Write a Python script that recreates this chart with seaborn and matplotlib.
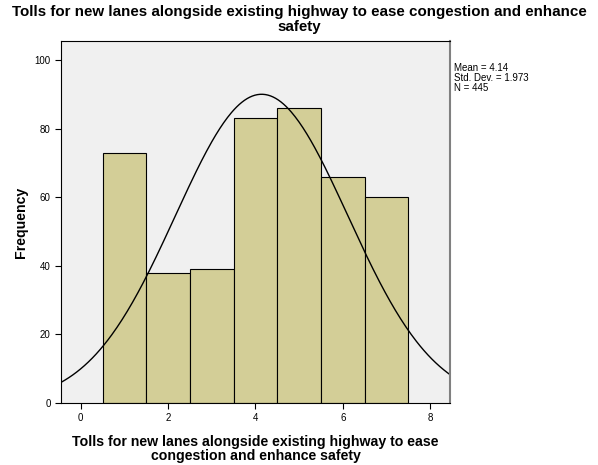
import numpy as np
import pandas as pd
import matplotlib
matplotlib.use("Agg")
import matplotlib.pyplot as plt
import seaborn as sns

# response categories and their counts
categories = [1, 2, 3, 4, 5, 6, 7]
counts = [73, 38, 39, 83, 86, 66, 60]
meanValue = 4.14
stdDev = 1.973
nTotal = 445

sns.set_style("white")
plt.rcParams["font.family"] = ["Liberation Sans", "DejaVu Sans"]
plt.rcParams["text.color"] = "black"
plt.rcParams["axes.labelcolor"] = "black"

fig = plt.figure(figsize=(5.98, 4.65), dpi=100)
ax = fig.add_axes([0.102, 0.1333, 0.6505, 0.7785])
ax.set_facecolor("#f0f0f0")

df = pd.DataFrame({"answer": categories, "count": counts})
edges = [0.5, 1.5, 2.5, 3.5, 4.5, 5.5, 6.5, 7.5]
sns.histplot(data=df, x="answer", weights="count", bins=edges, color="#d3ce97",
             edgecolor="black", linewidth=0.8, alpha=1.0, ax=ax)

# fitted normal curve scaled to counts
xs = np.linspace(-0.45, 8.45, 300)
ys = nTotal * 1.0 / (stdDev * np.sqrt(2 * np.pi)) * np.exp(-0.5 * ((xs - meanValue) / stdDev) ** 2)
ax.plot(xs, ys, color="black", linewidth=1.0)

ax.set_xlim(-0.45, 8.45)
ax.set_ylim(0, 105.5)
ax.set_xticks([0, 2, 4, 6, 8])
ax.set_yticks([0, 20, 40, 60, 80, 100])
ax.tick_params(axis="both", labelsize=7, length=4, width=0.8, direction="out",
               bottom=True, left=True, colors="black", labelcolor="black")
for side in ax.spines.values():
    side.set_color("black")
    side.set_linewidth(0.8)
ax.spines["right"].set_color("#808080")
ax.spines["right"].set_linewidth(1.5)

ax.set_xlabel("Tolls for new lanes alongside existing highway to ease\ncongestion and enhance safety",
              fontsize=10.2, fontweight="bold", labelpad=8, linespacing=1.05)
ax.set_ylabel("Frequency", fontsize=10.2, fontweight="bold")
ax.yaxis.set_label_coords(-0.085, 0.5)
fig.text(0.5, 0.99, "Tolls for new lanes alongside existing highway to ease congestion and enhance\nsafety",
         ha="center", va="top", fontsize=10.9, fontweight="bold", linespacing=1.1)

fig.text(0.76, 0.865, "Mean = %.2f\nStd. Dev. = %.3f\nN = %d" % (meanValue, stdDev, nTotal),
         ha="left", va="top", fontsize=7, linespacing=1.0)

fig.savefig("out.png", dpi=100, facecolor="white")
